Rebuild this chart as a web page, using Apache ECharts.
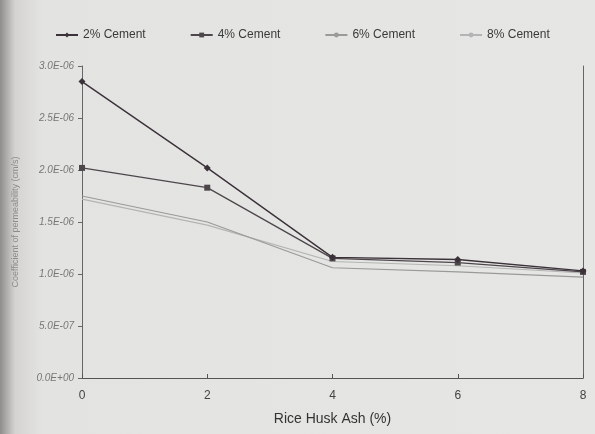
<!DOCTYPE html>
<html>
<head>
<meta charset="utf-8">
<script src="https://cdn.jsdelivr.net/npm/echarts@6/dist/echarts.min.js"></script>
<style>
  html, body { margin: 0; padding: 0; }
  #chart { width: 595px; height: 434px; }
</style>
</head>
<body>
<div id="chart"></div>
<script>
// Rice husk ash content (%)
const rhaLevels = [0, 2, 4, 6, 8];

// Coefficient of permeability (cm/s) for each cement content
const cement2 = [2.85e-6, 2.02e-6, 1.16e-6, 1.14e-6, 1.03e-6];
const cement4 = [2.02e-6, 1.83e-6, 1.15e-6, 1.11e-6, 1.02e-6];
const cement6 = [1.75e-6, 1.50e-6, 1.06e-6, 1.02e-6, 0.97e-6];
const cement8 = [1.72e-6, 1.47e-6, 1.12e-6, 1.08e-6, 1.01e-6];

const seriesNames = ['2% Cement', '4% Cement', '6% Cement', '8% Cement'];

function pairs(values) {
  return rhaLevels.map((x, i) => [x, values[i]]);
}

function sci(v) {
  if (v === 0) return '0.0E+00';
  const exp = Math.floor(Math.log10(Math.abs(v)) + 1e-9);
  const mant = v / Math.pow(10, exp);
  const sign = exp < 0 ? '-' : '+';
  const e = String(Math.abs(exp)).padStart(2, '0');
  return mant.toFixed(1) + 'E' + sign + e;
}

const chart = echarts.init(document.getElementById('chart'));

const styles = [
  { color: '#3b3139', symbol: 'diamond', size: 7, width: 1.4 },
  { color: '#4d474b', symbol: 'rect', size: 6, width: 1.3 },
  { color: '#9a9a9a', symbol: 'none', size: 0, width: 1.2 },
  { color: '#b4b4b4', symbol: 'none', size: 0, width: 1.1 }
];
const dataSets = [cement2, cement4, cement6, cement8];

chart.setOption({
  backgroundColor: {
    type: 'linear', x: 0, y: 0, x2: 1, y2: 0,
    colorStops: [
      { offset: 0, color: '#8f8d8b' },
      { offset: 0.025, color: '#d4d3d1' },
      { offset: 0.07, color: '#e3e3e1' },
      { offset: 1, color: '#e6e6e4' }
    ]
  },
  textStyle: { fontFamily: 'Liberation Sans, Arial, sans-serif' },
  legend: {
    top: 24,
    left: 50,
    width: 540,
    itemGap: 44,
    itemWidth: 22,
    itemHeight: 6,
    textStyle: { color: '#3a3a3a', fontSize: 12 },
    data: seriesNames
  },
  grid: { left: 82, right: 12, top: 66, bottom: 56 },
  xAxis: {
    type: 'value',
    min: 0, max: 8, interval: 2,
    name: 'Rice Husk Ash (%)',
    nameLocation: 'middle',
    nameGap: 34,
    nameTextStyle: { color: '#333', fontSize: 14 },
    axisLine: { lineStyle: { color: '#555', width: 1 } },
    axisTick: { inside: true, length: 4, lineStyle: { color: '#555' } },
    axisLabel: { color: '#444', fontSize: 12, margin: 12 },
    splitLine: { show: false }
  },
  yAxis: [
    {
      type: 'value',
      min: 0, max: 3e-6, interval: 5e-7,
      name: 'Coefficient of permeability (cm/s)',
      nameLocation: 'middle',
      nameGap: 62,
      nameTextStyle: { color: '#8a8a8a', fontSize: 9 },
      axisLine: { show: true, lineStyle: { color: '#666', width: 1 } },
      axisTick: { show: true, length: 4, lineStyle: { color: '#666' } },
      axisLabel: { color: '#777', fontSize: 10, fontStyle: 'italic', formatter: sci },
      splitLine: { show: false }
    },
    {
      type: 'value',
      position: 'right',
      min: 0, max: 3e-6, interval: 5e-7,
      axisLine: { show: true, lineStyle: { color: '#666', width: 1 } },
      axisTick: { show: false },
      axisLabel: { show: false },
      splitLine: { show: false }
    }
  ],
  series: seriesNames.map((name, i) => ({
    name,
    type: 'line',
    data: pairs(dataSets[i]),
    symbol: styles[i].symbol,
    symbolSize: styles[i].size,
    showSymbol: styles[i].symbol !== 'none',
    lineStyle: { color: styles[i].color, width: styles[i].width },
    itemStyle: { color: styles[i].color },
    z: 10 - i
  }))
});
</script>
</body>
</html>
